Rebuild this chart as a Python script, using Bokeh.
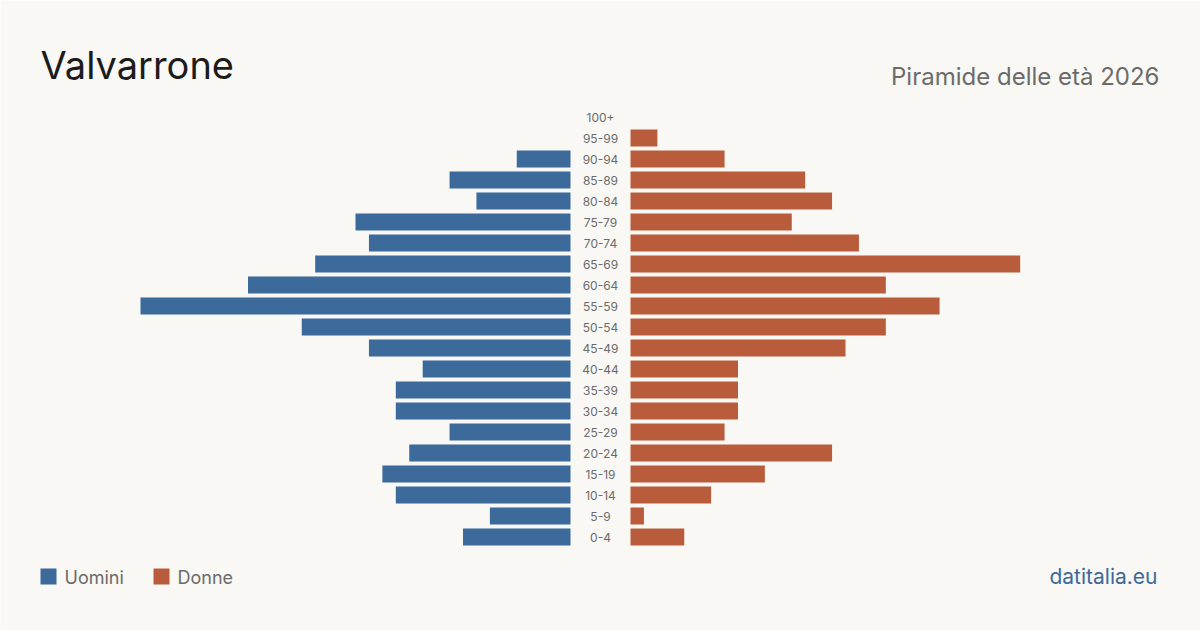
from bokeh.plotting import figure
from bokeh.models import Range1d, ColumnDataSource, Label
from bokeh.embed import file_html
from bokeh.resources import INLINE

# Age classes, bottom to top
ages = ["0-4", "5-9", "10-14", "15-19", "20-24", "25-29", "30-34", "35-39",
        "40-44", "45-49", "50-54", "55-59", "60-64", "65-69", "70-74",
        "75-79", "80-84", "85-89", "90-94", "95-99", "100+"]
men = [8, 6, 13, 14, 12, 9, 13, 13, 11, 15, 20, 32, 24, 19, 15, 16, 7, 9, 4, 0, 0]
women = [4, 1, 6, 10, 15, 7, 8, 8, 8, 16, 19, 23, 19, 29, 17, 12, 15, 13, 7, 2, 0]

title = "Valvarrone"
subtitle = "Piramide delle età 2026"
legend_labels = ["Uomini", "Donne"]
source_text = "datitalia.eu"

BG = "#f9f8f4"
BLUE = "#3b6a9b"
ORANGE = "#b85c3b"
GREY = "#6b6b6b"
FONT = "Inter"

W, H = 1200, 630
UNIT = 430 / max(max(men), max(women))   # pixels per person
ROW = 21                                  # pixels per age class
HALF_GAP = 30 / UNIT                      # room for the age labels
Y0 = 536.5                                # pixel row of the first class


def px_x(px):
    return (px - W / 2) / UNIT


def px_y(py):
    return (Y0 - py) / ROW


p = figure(width=W, height=H, output_backend="svg", toolbar_location=None,
           x_range=Range1d(px_x(0), px_x(W)), y_range=Range1d(px_y(H), px_y(0)),
           x_axis_location=None, y_axis_location=None, min_border=0,
           background_fill_color=BG, border_fill_color=BG)
p.outline_line_color = None
p.grid.visible = False

idx = list(range(len(ages)))
src = ColumnDataSource(dict(
    y=idx, age=ages,
    m_left=[-HALF_GAP - v for v in men], m_right=[-HALF_GAP] * len(ages),
    w_left=[HALF_GAP] * len(ages), w_right=[HALF_GAP + v for v in women],
    mid=[0] * len(ages),
))

bh = 17 / ROW
p.hbar(y="y", left="m_left", right="m_right", height=bh, source=src,
       fill_color=BLUE, line_color=None)
p.hbar(y="y", left="w_left", right="w_right", height=bh, source=src,
       fill_color=ORANGE, line_color=None)

p.text(x="mid", y="y", text="age", source=src, text_align="center",
       text_baseline="middle", text_font_size="12px", text_color=GREY,
       text_font={"value": FONT})

p.add_layout(Label(x=px_x(40), y=px_y(64), text=title, text_font=FONT,
                   text_font_size="38px", text_color="#1c1c1c",
                   text_baseline="alphabetic"))
p.add_layout(Label(x=px_x(1159), y=px_y(76), text=subtitle, text_font=FONT,
                   text_font_size="24px", text_color=GREY, text_align="right",
                   text_baseline="alphabetic"))

# legend
for (sx, colour, lab) in [(40, BLUE, legend_labels[0]), (153, ORANGE, legend_labels[1])]:
    p.rect(x=[px_x(sx + 8)], y=[px_y(576)], width=16 / UNIT, height=16 / ROW,
           fill_color=colour, line_color=None)
    p.add_layout(Label(x=px_x(sx + 24), y=px_y(577), text=lab, text_font=FONT,
                       text_font_size="18px", text_color=GREY,
                       text_baseline="alphabetic"))

p.add_layout(Label(x=px_x(1157), y=px_y(576), text=source_text, text_font=FONT,
                   text_font_size="21px", text_color=BLUE, text_align="right",
                   text_baseline="alphabetic"))

open("out.html", "w").write(file_html(p, INLINE))
